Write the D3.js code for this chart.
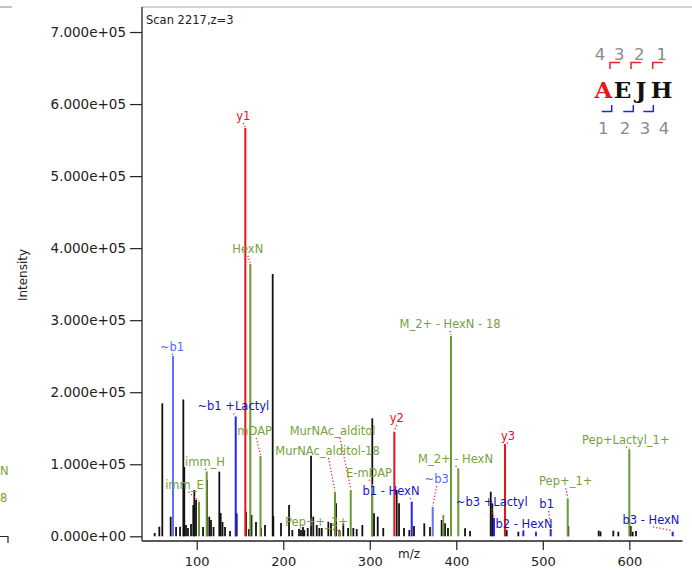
<!DOCTYPE html>
<html><head><meta charset="utf-8">
<script src="https://cdn.jsdelivr.net/npm/d3@7"></script>
<style>body{margin:0;background:#fff}svg{display:block}</style>
</head><body>
<svg id="c" width="692" height="571"></svg>
<script>
// ---------- DATA ----------
const blackMz = [51.4,56.75,60.2,69.9,76.1,80.7,84.5,85.6,87.6,89.9,93.4,96.0,97.2,99.2,107.3,111.9,114.5,116.5,119.4,126.1,127.7,129.8,132.7,138.5,146.2,157.0,160.4,163.3,168.5,174.3,178.9,187.8,188.5,197.4,206.7,210.5,218.2,220.5,222.8,224.3,228.3,232.1,234.7,238.7,241.7,244.5,252.1,255.2,261.0,264.8,269.4,274.9,281.0,284.9,291.4,302.9,304.9,309.2,315.6,331.1,333.8,339.6,345.7,351.1,363.0,369.6,383.1,387.0,390.4,410.1,415.9,439.8,441.6,458.3,471.7,529.5,564.6,566.7,581.5,587.3,601.6,603.9,607.7];
const blackInt = [4600,13300,184600,27200,12900,13300,189900,96200,15700,11500,17100,43400,64300,50400,12900,78100,27200,22600,12900,89700,32300,19800,12900,7400,31900,34100,10100,29600,19800,11100,15700,364100,28200,18500,43400,8700,10100,8700,12900,8700,11500,111900,27200,15700,11500,11500,20300,18500,45800,8700,18000,11500,11500,10100,15700,163800,31900,27200,11500,64300,45800,11500,8700,14300,18000,12900,22600,18000,11500,11100,7400,61900,45800,8700,6400,14300,7800,6700,7800,6400,14300,6400,7400];

// annotated peaks
const annLabel = ["~b1","~b1 +Lactyl","b1 - HexN","~b3","~b3 +Lactyl","b2 - HexN","b1","b3 - HexN",
  "y1","y2","y3",
  "HexN","mDAP","imm_H","imm_E","MurNAc_alditol","MurNAc_alditol-18","E-mDAP","Pep++_2+","M_2+ - HexN - 18","M_2+ - HexN","Pep+_1+","Pep+Lactyl_1+"];
const annType = ["bl","b","b","bl","b","b","b","b","y","y","y","o","o","o","o","o","o","o","o","o","o","o","o"];
const annMz  = [72.58,145.05,348.5,372.75,443.6,477.5,509.1,650.1, 156.15,328.4,456.3, 161.9,173.7,111.5,102.6,278.0,259.8,302.6,265.6,393.9,402.3,528.8,600.0];
const annInt = [250300,166300,48000,40700,25400,7400,10100,6400, 566800,145200,128100, 378000,111500,90000,47600,64300,61500,72600,7400,278000,94400,52700,120800];

// unlabeled coloured peaks
const extraMz = [492.1, 385.0];
const extraInt = [6400, 29600];
const extraType = ["b","o"];

const yTickValues = [0,100000,200000,300000,400000,500000,600000,700000];
const xTickValues = [100,200,300,400,500,600];
const seqLetters = ["A","E","J","H"];
const seqTop = ["4","3","2","1"];
const seqBottom = ["1","2","3","4"];

// ---------- LAYOUT (pixels) ----------
// label offsets from peak top: [dx, dy(baseline), connector start dx]
const labelOffsets = [[-1,-5,0],[-2.4,-6,0],[-20.7,-6.7,19],[4,-24,0],[-2.3,-12,0],[0.7,-3,0],[-4,-21,2],[-21.7,-7.7,2],
  [-2,-8,0],[2.4,-9.7,0],[3,-4,0],
  [-2.5,-11.3,0],[-5.8,-21,1.5],[-1.7,-5.5,0],[-14.5,-13,4],[-18.2,-55.3,7.5],[-7.5,-37,1],[-3,-7.3,0],[-23.5,-5,10],[-1,-8,0],[-2.8,-5.3,0],[-2,-13.3,0],[-3.5,-5.3,0]];

const lineColor = {bl:"#6070ff", b:"#2424ee", y:"#e8141c", o:"#6b9a32"};
const textColor = {bl:"#5566ff", b:"#1414c8", y:"#e0141c", o:"#78a040"};
const FONT = "DejaVu Sans, Verdana, sans-serif";

const svg = d3.select("#c");
const x = d3.scaleLinear().domain([36.5, 661]).range([141.8, 682.1]);
const y = d3.scaleLinear().domain([0, 723000]).range([536.3, 15.45]);

// frame top
svg.append("line").attr("x1",142).attr("x2",692).attr("y1",7).attr("y2",7).attr("stroke","#a8a8a8").attr("stroke-width",1.2);

// fragments of neighbouring chart at the left edge
svg.append("text").attr("x",0).attr("y",475).attr("fill","#78a040").attr("font-family",FONT).attr("font-size",11.5).text("N");
svg.append("text").attr("x",0).attr("y",502).attr("fill","#78a040").attr("font-family",FONT).attr("font-size",11.5).text("8");
svg.append("path").attr("d","M0,536.5H8V543").attr("fill","none").attr("stroke","#222").attr("stroke-width",1.2);
svg.append("line").attr("x1",0).attr("x2",12).attr("y1",7).attr("y2",7).attr("stroke","#888");

// Y axis
const yAxisG = svg.append("g").attr("transform","translate(142,0)");
yAxisG.call(d3.axisLeft(y).tickValues(d3.range(20000,720001,20000).filter(v=>v%100000!==0)).tickSize(6).tickFormat(""));
yAxisG.call(d3.axisLeft(y).tickValues(yTickValues).tickSize(12).tickPadding(4)
  .tickFormat(d => d.toExponential(3).replace(/e\+(\d)$/,"e+0$1")));
yAxisG.selectAll(".domain").remove();
yAxisG.selectAll("line").attr("stroke","#222").attr("stroke-width",1.2);
yAxisG.selectAll("text").attr("font-family",FONT).attr("font-size",13.5).attr("fill","#222");
svg.append("line").attr("x1",142).attr("x2",142).attr("y1",7).attr("y2",541).attr("stroke","#222").attr("stroke-width",1.3);

// X axis
const xAxisG = svg.append("g").attr("transform","translate(0,541)");
xAxisG.call(d3.axisBottom(x).tickValues(d3.range(40,661,20).filter(v=>v%100!==0)).tickSize(5).tickFormat(""));
xAxisG.call(d3.axisBottom(x).tickValues(xTickValues).tickSize(9).tickPadding(7));
xAxisG.selectAll(".domain").remove();
xAxisG.selectAll("line").attr("stroke","#222").attr("stroke-width",1.2);
xAxisG.selectAll("text").attr("font-family",FONT).attr("font-size",13).attr("fill","#222");
svg.append("line").attr("x1",142).attr("x2",682.5).attr("y1",541).attr("y2",541).attr("stroke","#222").attr("stroke-width",1.3);

svg.append("text").attr("x",409).attr("y",558).attr("text-anchor","middle").attr("font-family",FONT).attr("font-size",12).attr("fill","#222").text("m/z");
svg.append("text").attr("transform","translate(27,275) rotate(-90)").attr("text-anchor","middle").attr("font-family",FONT).attr("font-size",12).attr("fill","#222").text("Intensity");
svg.append("text").attr("x",146).attr("y",24).attr("font-family",FONT).attr("font-size",11.5).attr("fill","#222").text("Scan 2217,z=3");

// black peaks
const blackData = blackMz.map((m,i)=>({m, v:blackInt[i]}));
svg.append("g").selectAll("line").data(blackData).join("line")
  .attr("x1",d=>x(d.m)).attr("x2",d=>x(d.m)).attr("y1",y(0)).attr("y2",d=>y(d.v))
  .attr("stroke","#111").attr("stroke-width",1.8);

// extra coloured peaks
const extraData = extraMz.map((m,i)=>({m, v:extraInt[i], t:extraType[i]}));
svg.append("g").selectAll("line").data(extraData).join("line")
  .attr("x1",d=>x(d.m)).attr("x2",d=>x(d.m)).attr("y1",y(0)).attr("y2",d=>y(d.v))
  .attr("stroke",d=>lineColor[d.t]).attr("stroke-width",1.8);

// annotated peaks
const ann = annMz.map((m,i)=>({m, v:annInt[i], t:annType[i], label:annLabel[i], off:labelOffsets[i]}));
svg.append("g").selectAll("line").data(ann).join("line")
  .attr("x1",d=>x(d.m)).attr("x2",d=>x(d.m)).attr("y1",y(0)).attr("y2",d=>y(d.v))
  .attr("stroke",d=>lineColor[d.t]).attr("stroke-width",2);

// connectors
svg.append("g").selectAll("line").data(ann).join("line")
  .attr("x1",d=>x(d.m)+d.off[0]+d.off[2]).attr("y1",d=>y(d.v)+d.off[1]+3)
  .attr("x2",d=>x(d.m)).attr("y2",d=>y(d.v)-1)
  .attr("stroke","#e83040").attr("stroke-width",1.3).attr("stroke-dasharray","1.3,2");

// labels
svg.append("g").selectAll("text").data(ann).join("text")
  .attr("x",d=>x(d.m)+d.off[0]).attr("y",d=>y(d.v)+d.off[1])
  .attr("text-anchor","middle").attr("font-family",FONT).attr("font-size",11.5)
  .attr("fill",d=>textColor[d.t]).text(d=>d.label);

// sequence graphic
const seqG = svg.append("g");
const letterX = [603.5,622.5,641,661.5];
seqG.selectAll("text.l").data(seqLetters).join("text").attr("class","l")
  .attr("x",(d,i)=>letterX[i]).attr("y",98).attr("text-anchor","middle")
  .attr("font-family","DejaVu Serif, Liberation Serif, serif").attr("font-weight","bold").attr("font-size",23)
  .attr("fill",(d,i)=>i===0?"#ee1111":"#111").text(d=>d);
const topX = [600,619.3,639.3,661.7];
seqG.selectAll("text.t").data(seqTop).join("text").attr("class","t")
  .attr("x",(d,i)=>topX[i]).attr("y",60).attr("text-anchor","middle")
  .attr("font-family",FONT).attr("font-size",16.5).attr("fill","#8a8a8a").text(d=>d);
const botX = [603.3,625,645,664];
seqG.selectAll("text.b").data(seqBottom).join("text").attr("class","b")
  .attr("x",(d,i)=>botX[i]).attr("y",134).attr("text-anchor","middle")
  .attr("font-family",FONT).attr("font-size",16.5).attr("fill","#8a8a8a").text(d=>d);
const redB = [610,631,652.7];
seqG.selectAll("path.r").data(redB).join("path").attr("class","r")
  .attr("d",d=>`M${d},69V62.5H${d+10}`).attr("fill","none").attr("stroke","#ee2222").attr("stroke-width",1.5);
const blueB = [601.7,623.3,643.3];
seqG.selectAll("path.bb").data(blueB).join("path").attr("class","bb")
  .attr("d",d=>`M${d},111.5H${d+10}V105`).attr("fill","none").attr("stroke","#2222ee").attr("stroke-width",1.5);
</script>
</body></html>
